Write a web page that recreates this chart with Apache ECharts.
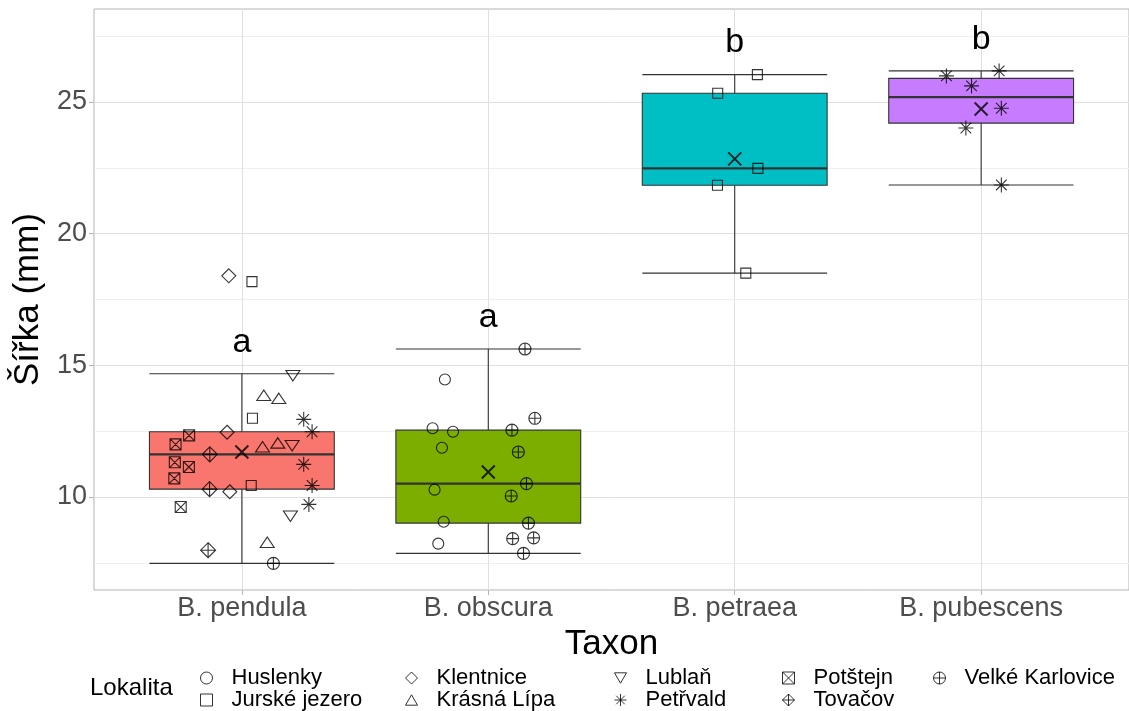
<!DOCTYPE html>
<html>
<head>
<meta charset="utf-8">
<title>Šířka podle taxonu</title>
<script src="https://cdn.jsdelivr.net/npm/echarts@6/dist/echarts.min.js"></script>
<style>
  html, body { margin: 0; padding: 0; background: #ffffff; }
  #chart { width: 1129px; height: 711px; }
</style>
</head>
<body>
<div id="chart"></div>
<script>
// ---------- data ----------
const taxa = ['B. pendula', 'B. obscura', 'B. petraea', 'B. pubescens'];
const groupLetters = ['a', 'a', 'b', 'b'];
const yTicks = [10, 15, 20, 25];
const yMinorGrid = [7.5, 12.5, 17.5, 22.5, 27.5];
const localities = ['Huslenky', 'Jurské jezero', 'Klentnice', 'Krásná Lípa', 'Lublaň',
                    'Petřvald', 'Potštejn', 'Tovačov', 'Velké Karlovice'];

// width (mm) of each measured sample, its locality, and its horizontal jitter within the taxon column
const pendulaWidth = [18.40, 18.18, 14.68, 13.79, 13.67, 12.99, 12.95, 12.48, 12.34, 12.00,
                      12.46, 11.62, 11.83, 11.98, 12.02, 11.32, 11.14, 10.71, 11.24, 10.44,
                      10.30, 10.20, 10.44, 9.62, 9.72, 9.35, 8.21, 7.98, 7.48];
const pendulaSite = ['Klentnice', 'Jurské jezero', 'Lublaň', 'Krásná Lípa', 'Krásná Lípa',
                     'Jurské jezero', 'Petřvald', 'Petřvald', 'Potštejn', 'Potštejn',
                     'Klentnice', 'Tovačov', 'Krásná Lípa', 'Krásná Lípa', 'Lublaň',
                     'Potštejn', 'Potštejn', 'Potštejn', 'Petřvald', 'Petřvald',
                     'Tovačov', 'Klentnice', 'Jurské jezero', 'Potštejn', 'Petřvald',
                     'Lublaň', 'Krásná Lípa', 'Tovačov', 'Velké Karlovice'];
const pendulaJitter = [-0.053, 0.041, 0.207, 0.089, 0.150, 0.043, 0.251, 0.285, -0.214, -0.269,
                       -0.060, -0.130, 0.084, 0.146, 0.204, -0.272, -0.215, -0.274, 0.251, 0.285,
                       -0.131, -0.049, 0.038, -0.248, 0.272, 0.197, 0.103, -0.137, 0.128];

const obscuraWidth = [14.46, 12.61, 12.48, 11.87, 10.28, 9.06, 8.23,
                      15.62, 12.99, 12.54, 11.71, 10.51, 10.04, 9.01, 8.42, 8.45, 7.86];
const obscuraSite = ['Huslenky', 'Huslenky', 'Huslenky', 'Huslenky', 'Huslenky', 'Huslenky', 'Huslenky',
                     'Velké Karlovice', 'Velké Karlovice', 'Velké Karlovice', 'Velké Karlovice',
                     'Velké Karlovice', 'Velké Karlovice', 'Velké Karlovice', 'Velké Karlovice',
                     'Velké Karlovice', 'Velké Karlovice'];
const obscuraJitter = [-0.176, -0.226, -0.143, -0.188, -0.218, -0.181, -0.203,
                       0.149, 0.189, 0.096, 0.122, 0.155, 0.093, 0.163, 0.099, 0.184, 0.143];

const petraeaWidth = [26.04, 25.33, 22.48, 21.84, 18.50];
const petraeaSite = ['Jurské jezero', 'Jurské jezero', 'Jurské jezero', 'Jurské jezero', 'Jurské jezero'];
const petraeaJitter = [0.092, -0.069, 0.094, -0.070, 0.045];

const pubescensWidth = [25.99, 26.18, 25.61, 24.76, 24.01, 21.85];
const pubescensSite = ['Petřvald', 'Petřvald', 'Petřvald', 'Petřvald', 'Petřvald', 'Petřvald'];
const pubescensJitter = [-0.141, 0.073, -0.039, 0.082, -0.062, 0.082];

const taxonWidths = [pendulaWidth, obscuraWidth, petraeaWidth, pubescensWidth];
const taxonSites = [pendulaSite, obscuraSite, petraeaSite, pubescensSite];
const taxonJitters = [pendulaJitter, obscuraJitter, petraeaJitter, pubescensJitter];

// ---------- styles ----------
const FONT = 'Liberation Sans, Arial, Helvetica, sans-serif';
const taxonFill = ['#F8766D', '#7CAE00', '#00BFC4', '#C77CFF'];
const BOX_WIDTH = 0.75;
const LETTER_OFFSET = 1.2;      // letters sit this far (mm) above the upper whisker
const Y_MIN = 6.47, Y_MAX = 28.53;

const P_CIRCLE = 'M0 5A5 5 0 1 1 10 5A5 5 0 1 1 0 5Z';
const P_SQUARE = 'M0 0H10V10H0Z';
const P_DIAMOND = 'M5 0L10 5L5 10L0 5Z';
const siteSymbol = {
  'Huslenky':        { path: 'path://' + P_CIRCLE, size: 11 },
  'Jurské jezero':   { path: 'path://' + P_SQUARE, size: 10 },
  'Klentnice':       { path: 'path://' + P_DIAMOND, size: 14 },
  'Krásná Lípa':     { path: 'path://M5 0L10 8.66L0 8.66Z', size: [14, 12.1], offset: [0, -2] },
  'Lublaň':          { path: 'path://M0 0L10 0L5 8.66Z', size: [14, 12.1], offset: [0, 2] },
  'Petřvald':        { path: 'path://M5 0V10M0 5H10M1.46 1.46L8.54 8.54M8.54 1.46L1.46 8.54', size: 15 },
  'Potštejn':        { path: 'path://' + P_SQUARE + 'M0 0L10 10M10 0L0 10', size: 11 },
  'Tovačov':         { path: 'path://' + P_DIAMOND + 'M5 0V10M0 5H10', size: 15 },
  'Velké Karlovice': { path: 'path://' + P_CIRCLE + 'M5 0V10M0 5H10', size: 12 }
};

// ---------- statistics (R type-7 quantiles, Tukey whiskers) ----------
function quantile(sorted, p) {
  const h = (sorted.length - 1) * p;
  const lo = Math.floor(h);
  const hi = Math.min(lo + 1, sorted.length - 1);
  return sorted[lo] + (h - lo) * (sorted[hi] - sorted[lo]);
}
const boxData = [];
const meanData = [];
const letterData = [];
taxonWidths.forEach(function (vals, i) {
  const s = vals.slice().sort(function (a, b) { return a - b; });
  const q1 = quantile(s, 0.25), med = quantile(s, 0.5), q3 = quantile(s, 0.75);
  const iqr = q3 - q1;
  const upper = Math.max.apply(null, s.filter(function (v) { return v <= q3 + 1.5 * iqr; }));
  const lower = Math.min.apply(null, s.filter(function (v) { return v >= q1 - 1.5 * iqr; }));
  const mean = s.reduce(function (a, b) { return a + b; }, 0) / s.length;
  boxData.push([i + 1, lower, q1, med, q3, upper]);
  meanData.push([i + 1, mean]);
  letterData.push([i + 1, upper + LETTER_OFFSET]);
});

// ---------- point series, one per locality ----------
const pointSeries = localities.map(function (site) {
  const data = [];
  taxonWidths.forEach(function (vals, i) {
    vals.forEach(function (v, k) {
      if (taxonSites[i][k] === site) data.push([i + 1 + taxonJitters[i][k], v]);
    });
  });
  const sym = siteSymbol[site];
  return {
    name: site,
    type: 'scatter',
    data: data,
    symbol: sym.path,
    symbolSize: sym.size,
    symbolOffset: sym.offset || [0, 0],
    symbolKeepAspect: true,
    itemStyle: { color: 'rgba(0,0,0,0)', borderColor: '#000000', borderWidth: 1.1 },
    z: 5,
    silent: true,
    animation: false
  };
});

// ---------- legend, one block per column ----------
const legendColumns = [
  { names: ['Huslenky', 'Jurské jezero'], left: 200 },
  { names: ['Klentnice', 'Krásná Lípa'], left: 405 },
  { names: ['Lublaň', 'Petřvald'], left: 614 },
  { names: ['Potštejn', 'Tovačov'], left: 782 },
  { names: ['Velké Karlovice'], left: 933 }
];
const legends = legendColumns.map(function (col) {
  return {
    data: col.names,
    orient: 'vertical',
    left: col.left,
    top: 667,
    padding: 0,
    itemGap: 0,
    itemWidth: 12,
    itemHeight: 12,
    selectedMode: false,
    itemStyle: { color: 'rgba(0,0,0,0)', borderColor: '#000000', borderWidth: 1 },
    textStyle: { fontFamily: FONT, fontSize: 22, color: '#000000', lineHeight: 20, padding: [0, 0, 0, 14] }
  };
});

const lineColor = '#333333';
function seg(x1, y1, x2, y2, w) {
  return { type: 'line', shape: { x1: x1, y1: y1, x2: x2, y2: y2 }, style: { stroke: lineColor, lineWidth: w } };
}

const chart = echarts.init(document.getElementById('chart'), null, { renderer: 'canvas' });
chart.setOption({
  animation: false,
  backgroundColor: '#ffffff',
  textStyle: { fontFamily: FONT },
  grid: {
    left: 94, top: 9, width: 1037, height: 581,
    show: true, borderColor: '#b3b3b3', borderWidth: 1, backgroundColor: 'rgba(0,0,0,0)'
  },
  legend: legends,
  graphic: [{
    type: 'text', left: 90, top: 676,
    style: { text: 'Lokalita', fontFamily: FONT, fontSize: 24, fill: '#000000' }
  }],
  xAxis: {
    type: 'value',
    min: 1 - 0.6, max: taxa.length + 0.6,
    axisLine: { show: false },
    splitLine: { show: false },
    axisTick: { show: true, customValues: [1, 2, 3, 4], length: 5, lineStyle: { color: '#b3b3b3', width: 1 } },
    axisLabel: {
      customValues: [1, 2, 3, 4], margin: 5,
      fontFamily: FONT, fontSize: 27, color: '#4d4d4d',
      formatter: function (v) { return taxa[Math.round(v) - 1]; }
    },
    name: 'Taxon', nameLocation: 'middle', nameGap: 30,
    nameTextStyle: { fontFamily: FONT, fontSize: 35, color: '#000000' }
  },
  yAxis: {
    type: 'value',
    min: Y_MIN, max: Y_MAX,
    axisLine: { show: false },
    splitLine: { show: false },
    axisTick: { show: true, customValues: yTicks, length: 5, lineStyle: { color: '#b3b3b3', width: 1 } },
    axisLabel: { customValues: yTicks, margin: 7, fontFamily: FONT, fontSize: 27, color: '#4d4d4d' },
    name: 'Šířka (mm)', nameLocation: 'middle', nameGap: 41, nameRotate: 90,
    nameTextStyle: { fontFamily: FONT, fontSize: 35, color: '#000000' }
  },
  series: [
    {
      // panel grid lines
      type: 'line', data: [], silent: true, z: 0,
      markLine: {
        silent: true, symbol: 'none', animation: false, z: 0,
        label: { show: false },
        data: []
          .concat(yMinorGrid.map(function (v) { return { yAxis: v, lineStyle: { color: '#efefef', width: 1, type: 'solid' } }; }))
          .concat(yTicks.map(function (v) { return { yAxis: v, lineStyle: { color: '#e0e0e0', width: 1, type: 'solid' } }; }))
          .concat([1, 2, 3, 4].map(function (v) { return { xAxis: v, lineStyle: { color: '#e0e0e0', width: 1, type: 'solid' } }; }))
      }
    },
    {
      // box, whiskers and caps
      type: 'custom', z: 2, silent: true,
      data: boxData,
      encode: { x: 0, y: [1, 2, 3, 4, 5] },
      renderItem: function (params, api) {
        const x = api.value(0);
        const lower = api.value(1), q1 = api.value(2), med = api.value(3), q3 = api.value(4), upper = api.value(5);
        const tl = api.coord([x - BOX_WIDTH / 2, q3]);
        const br = api.coord([x + BOX_WIDTH / 2, q1]);
        const cx = api.coord([x, med])[0];
        const yMed = api.coord([x, med])[1];
        const yUp = api.coord([x, upper])[1];
        const yDn = api.coord([x, lower])[1];
        return {
          type: 'group',
          children: [
            seg(cx, tl[1], cx, yUp, 1.1),
            seg(cx, br[1], cx, yDn, 1.1),
            seg(tl[0], yUp, br[0], yUp, 1.1),
            seg(tl[0], yDn, br[0], yDn, 1.1),
            {
              type: 'rect',
              shape: { x: tl[0], y: tl[1], width: br[0] - tl[0], height: br[1] - tl[1] },
              style: { fill: taxonFill[params.dataIndex], stroke: lineColor, lineWidth: 1.1 }
            },
            seg(tl[0], yMed, br[0], yMed, 2.2)
          ]
        };
      }
    },
    {
      // group letters above each box
      type: 'custom', z: 3, silent: true,
      data: letterData,
      encode: { x: 0, y: 1 },
      renderItem: function (params, api) {
        const p = api.coord([api.value(0), api.value(1)]);
        return {
          type: 'text', x: p[0], y: p[1],
          style: {
            text: groupLetters[params.dataIndex], fontFamily: FONT, fontSize: 34,
            fill: '#000000', align: 'center', verticalAlign: 'middle'
          }
        };
      }
    },
    {
      // taxon mean
      name: 'mean', type: 'scatter', data: meanData, z: 6, silent: true,
      symbol: 'path://M0 0L10 10M10 0L0 10', symbolSize: 13,
      itemStyle: { color: 'rgba(0,0,0,0)', borderColor: '#000000', borderWidth: 2 }
    }
  ].concat(pointSeries)
});
</script>
</body>
</html>
